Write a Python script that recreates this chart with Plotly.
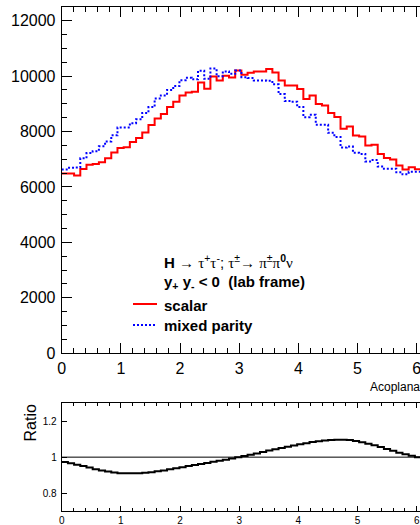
import math
import plotly.graph_objects as go

# ---------------- data ----------------
N_BINS = 60
X_MIN, X_MAX = 0.0, 2 * math.pi

scalar = [6480, 6480, 6410, 6650, 6800, 6830, 6890, 7030, 7240, 7400,
          7430, 7620, 7765, 7960, 8235, 8470, 8630, 8880, 9070, 9300,
          9410, 9430, 9770, 9540, 9985, 9841, 10010, 9950, 10202, 10047,
          10120, 10166, 10166, 10252, 10130, 9835, 9655, 9660, 9535, 9169,
          9300, 8989, 8935, 8664, 8520, 8097, 8180, 7855, 7819, 7494,
          7520, 7190, 7040, 6990, 6773, 6630, 6710, 6635, 6600, 6560]

mixed = [6630, 6690, 6700, 7030, 7220, 7290, 7470, 7640, 7860, 8145,
         8145, 8300, 8440, 8670, 8880, 9190, 9300, 9500, 9640, 9850,
         9940, 9880, 10190, 9900, 10270, 9990, 10166, 10080, 10200, 9960,
         9930, 9840, 9840, 9830, 9700, 9350, 9100, 9070, 8880, 8515,
         8603, 8241, 8241, 7950, 7800, 7422, 7458, 7230, 7190, 6917,
         6970, 6736, 6653, 6653, 6527, 6455, 6545, 6545, 6560, 6600]

ratio = [0.973, 0.966, 0.958, 0.950, 0.942, 0.933, 0.926, 0.920, 0.915, 0.911,
         0.910, 0.910, 0.911, 0.913, 0.916, 0.921, 0.926, 0.932, 0.938, 0.944,
         0.950, 0.956, 0.962, 0.968, 0.974, 0.980, 0.986, 0.993, 1.000, 1.007,
         1.014, 1.021, 1.029, 1.037, 1.044, 1.051, 1.058, 1.065, 1.072, 1.078,
         1.084, 1.089, 1.093, 1.095, 1.097, 1.097, 1.095, 1.090, 1.083, 1.075,
         1.066, 1.056, 1.045, 1.035, 1.025, 1.016, 1.008, 1.000, 0.993, 0.985]

series_names = ["scalar", "mixed parity"]
x_title = "Acoplanarity"
y2_title = "Ratio"
ratio_ticks = [0.8, 1.0, 1.2]
ratio_ticktext = ["0.8", "1", "1.2"]

# ---------------- layout helpers ----------------
W, H = 420, 525
FONT = "Liberation Sans, Arial, sans-serif"


def px(x):
    return x / W


def py(y):
    return 1 - y / H


width = (X_MAX - X_MIN) / N_BINS
edges = [X_MIN + i * width for i in range(N_BINS + 1)]


def step(vals):
    return list(vals) + [vals[-1]]


fig = go.Figure()
fig.add_trace(go.Scatter(x=edges, y=step(scalar), mode="lines", line_shape="hv",
                         line=dict(color="#ff0000", width=2), name=series_names[0],
                         xaxis="x", yaxis="y", showlegend=False))
fig.add_trace(go.Scatter(x=edges, y=step(mixed), mode="lines", line_shape="hv",
                         line=dict(color="#0000ff", width=2, dash="2px,2px"),
                         name=series_names[1], xaxis="x", yaxis="y", showlegend=False))
fig.add_trace(go.Scatter(x=edges, y=step(ratio), mode="lines", line_shape="hv",
                         line=dict(color="black", width=2), name="ratio",
                         xaxis="x2", yaxis="y2", showlegend=False))

# visible x extent (the frame runs off the right edge of the window)
x_left_px = 61.7
px_per_unit = 59.17
x_vis_max = (W - x_left_px) / px_per_unit

axis_common = dict(showline=True, linecolor="black", linewidth=1, ticks="inside",
                   tickcolor="black", tickwidth=1, showgrid=False, zeroline=False,
                   automargin=False)

fig.update_layout(
    template="none",
    width=W, height=H,
    margin=dict(l=0, r=0, t=0, b=0, pad=0),
    paper_bgcolor="white", plot_bgcolor="white",
    font=dict(family=FONT, color="black"),
    xaxis=dict(domain=[px(x_left_px), 1], range=[0, x_vis_max], anchor="y",
               dtick=1, tick0=0, ticklen=10, mirror="ticks", ticklabeloverflow="allow",
               minor=dict(dtick=0.2, ticklen=5, ticks="inside", tickcolor="black"),
               tickfont=dict(size=16, family=FONT), **axis_common),
    yaxis=dict(domain=[py(353.3), py(6.7)], range=[0, 12500], anchor="x",
               dtick=2000, tick0=0, ticklen=10, tickformat="d",
               minor=dict(dtick=500, ticklen=5, ticks="inside", tickcolor="black"),
               tickfont=dict(size=16, family=FONT), ticklabelstandoff=2, **axis_common),
    xaxis2=dict(domain=[px(x_left_px), 1], range=[0, x_vis_max], anchor="y2",
                dtick=1, tick0=0, ticklen=5, mirror="ticks", ticklabeloverflow="allow",
                minor=dict(dtick=0.2, ticklen=3, ticks="inside", tickcolor="black"),
                tickfont=dict(size=10, family=FONT), **axis_common),
    yaxis2=dict(domain=[py(511), py(403.3)], range=[0.7, 1.3], anchor="x2",
                tickvals=ratio_ticks, ticktext=ratio_ticktext, ticklen=5,
                tickfont=dict(size=10, family=FONT), ticklabelstandoff=2, **axis_common),
)

# reference line at ratio = 1
fig.add_shape(type="line", xref="x2 domain", yref="y2", x0=0, x1=1, y0=1, y1=1,
              line=dict(color="black", width=1))

# legend samples
fig.add_shape(type="line", xref="paper", yref="paper", x0=px(133), x1=px(157),
              y0=py(304), y1=py(304), line=dict(color="#ff0000", width=2))
fig.add_shape(type="line", xref="paper", yref="paper", x0=px(133), x1=px(157),
              y0=py(325), y1=py(325), line=dict(color="#0000ff", width=2, dash="2px,2px"))

GREEK = "Liberation Serif, Times New Roman, serif"


def g(s):
    return f'<span style="font-family:{GREEK};font-weight:normal">{s}</span>'


line1 = ("<b>H</b> → " + g("τ") + "<sup>+</sup>" + g("τ") + "<sup>-</sup>; "
         + g("τ") + "<sup>±</sup>→ " + g("π") + "<sup>±</sup>" + g("π")
         + "<sup><b>0</b></sup>" + g("ν"))
line2 = "<b>y<sub>+</sub> y<sub>-</sub> &lt; 0  (lab frame)</b>"

ann = [
    dict(text=line1, x=px(162), y=py(261), size=15),
    dict(text=line2, x=px(162), y=py(282), size=15),
    dict(text="<b>" + series_names[0] + "</b>", x=px(162), y=py(305), size=15),
    dict(text="<b>" + series_names[1] + "</b>", x=px(162), y=py(325), size=15),
]
for a in ann:
    fig.add_annotation(text=a["text"], x=a["x"], y=a["y"], xref="paper", yref="paper",
                       xanchor="left", yanchor="middle", showarrow=False,
                       font=dict(size=a["size"], family=FONT, color="black"))

fig.add_annotation(text=x_title, x=px(368), y=py(387), xref="paper", yref="paper",
                   xanchor="left", yanchor="middle", showarrow=False,
                   font=dict(size=12, family=FONT, color="black"))
fig.add_annotation(text=y2_title, x=px(30), y=py(403), xref="paper", yref="paper",
                   xanchor="center", yanchor="top", textangle=-90, showarrow=False,
                   font=dict(size=16, family=FONT, color="black"))

fig.write_html("out.html")
